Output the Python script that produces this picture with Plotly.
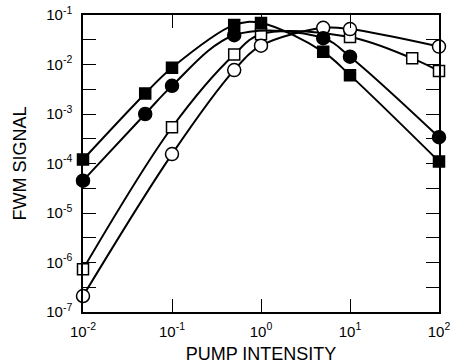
import plotly.graph_objects as go

# Data
x_fsq = [0.01, 0.05, 0.1, 0.5, 1, 5, 10, 100]
y_fsq = [1.2e-4, 2.6e-3, 8.6e-3, 0.063, 0.069, 0.018, 6.1e-3, 1.1e-4]

x_fci = [0.01, 0.05, 0.1, 0.5, 5, 10, 100]
y_fci = [4.5e-5, 1.0e-3, 3.7e-3, 0.039, 0.034, 0.0144, 3.4e-4]

x_osq = [0.01, 0.1, 0.5, 1, 10, 50, 100]
y_osq = [7.3e-7, 5.4e-4, 0.016, 0.041, 0.036, 0.0133, 7.4e-3]

x_oci = [0.01, 0.1, 0.5, 1, 5, 10, 100]
y_oci = [2.1e-7, 1.55e-4, 7.7e-3, 0.024, 0.055, 0.052, 0.023]

x_tickvals = [0.01, 0.1, 1, 10, 100]
x_ticktext = ["10<sup>-2</sup>", "10<sup>-1</sup>", "10<sup>0</sup>", "10<sup>1</sup>", "10<sup>2</sup>"]
y_tickvals = [1e-7, 1e-6, 1e-5, 1e-4, 1e-3, 1e-2, 1e-1]
y_ticktext = ["10<sup>-7</sup>", "10<sup>-6</sup>", "10<sup>-5</sup>", "10<sup>-4</sup>",
              "10<sup>-3</sup>", "10<sup>-2</sup>", "10<sup>-1</sup>"]
y_minor = [3.16e-7, 3.16e-6, 3.16e-5, 3.16e-4, 3.16e-3, 3.16e-2]

FONT = "Liberation Sans, Arial, Helvetica, sans-serif"

fig = go.Figure()

def add(xs, ys, symbol, fill, size):
    fig.add_trace(go.Scatter(
        x=xs, y=ys, mode="lines+markers",
        line=dict(color="black", width=2, shape="spline", smoothing=1.0),
        marker=dict(symbol=symbol, size=size,
                    color=fill, line=dict(color="black", width=1.5)),
        showlegend=False, cliponaxis=False,
    ))

add(x_osq, y_osq, "square", "white", 11)
add(x_oci, y_oci, "circle", "white", 13)
add(x_fci, y_fci, "circle", "black", 13)
add(x_fsq, y_fsq, "square", "black", 11)

fig.update_layout(
    width=450, height=364,
    margin=dict(l=83, r=11, t=15, b=52),
    paper_bgcolor="white", plot_bgcolor="white",
    font=dict(family=FONT, size=15, color="black"),
)
fig.update_xaxes(
    type="log", range=[-2, 2],
    tickvals=x_tickvals, ticktext=x_ticktext,
    ticks="inside", ticklen=13, tickwidth=1.2, tickcolor="black",
    showline=True, linecolor="black", linewidth=1.5, mirror="ticks",
    showgrid=False, zeroline=False,
    tickfont=dict(size=15), ticklabelstandoff=5, ticklabeloverflow="allow",
    title=dict(text="PUMP INTENSITY", font=dict(size=18), standoff=9),
    automargin=False,
)
fig.update_yaxes(
    type="log", range=[-7, -1],
    tickvals=y_tickvals, ticktext=y_ticktext,
    ticks="inside", ticklen=13, tickwidth=1.2, tickcolor="black",
    minor=dict(tickvals=y_minor, ticks="inside", ticklen=13, tickwidth=1.2,
               tickcolor="black", showgrid=False),
    showline=True, linecolor="black", linewidth=1.5, mirror="ticks",
    showgrid=False, zeroline=False,
    tickfont=dict(size=15), ticklabelstandoff=6, ticklabeloverflow="allow",
    title=dict(text="FWM SIGNAL", font=dict(size=18), standoff=15),
    automargin=False,
)

fig.write_html("out.html", config={"displayModeBar": False},
               post_script="document.body.style.margin='0';")
